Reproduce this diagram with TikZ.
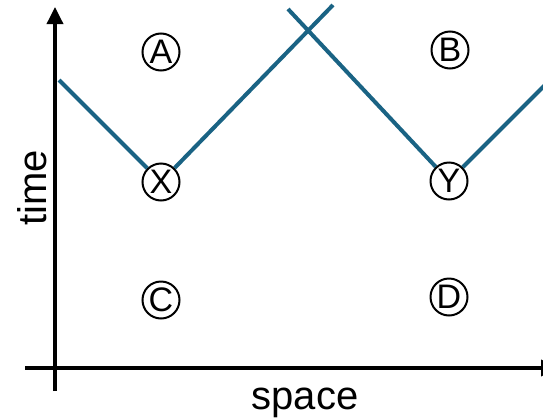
\documentclass[tikz,border=0pt]{standalone}
\usepackage{fontspec}
\setmainfont{Liberation Sans}
\usetikzlibrary{arrows.meta}
\definecolor{wl}{RGB}{26,99,132}
\begin{document}
\begin{tikzpicture}[x=1pt,y=-1pt,
 axis/.style={line width=3.5pt, -{Triangle[width=16pt,length=17pt]}},
 world/.style={line width=4pt, draw=wl},
 ev/.style={circle, draw, line width=2pt, minimum size=37pt, inner sep=0pt, font=\fontsize{34}{38}\selectfont},
 lab/.style={font=\fontsize{40}{48}\selectfont, inner sep=0pt}]
\useasboundingbox (0,0) rectangle (543,418);
\clip (0,0) rectangle (543,418);
% axes
\coordinate (vb) at (55,391);
\coordinate (vt) at (55,7);
\coordinate (hl) at (25,368);
\coordinate (hr) at (558,368);
\draw[axis] (vb) -- (vt);
\draw[axis] (hl) -- (hr);
% events
\node[ev] (A) at (161,52) {A};
\node[ev] (B) at (450,50) {B};
\node[ev] (C) at (161,300) {C};
\node[ev] (D) at (449,297) {D};
\node[ev] (X) at (161,182) {X};
\node[ev] (Y) at (449,181) {Y};
% world lines
\coordinate (s1) at (59,80);
\coordinate (e1) at (333,5);
\coordinate (s2) at (288,9);
\coordinate (e2) at (553,77);
\draw[world] (s1) -- (X) -- (e1);
\draw[world] (s2) -- (Y) -- (e2);
% labels
\node[lab, rotate=90] (time) at (32,188) {time};
\node[lab] (space) at (305,403) {space};
\end{tikzpicture}
\end{document}
